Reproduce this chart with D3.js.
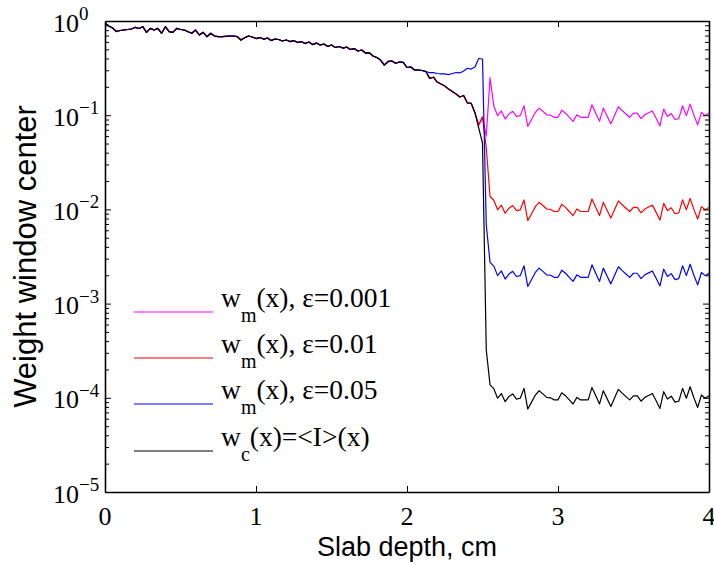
<!DOCTYPE html>
<html>
<head>
<meta charset="utf-8">
<script src="https://cdn.jsdelivr.net/npm/d3@7"></script>
<style>
  body { margin: 0; background: #fff; }
  svg { display: block; }
</style>
</head>
<body>
<svg id="chart" width="714" height="565"></svg>
<script>
// Sample depths along the slab, cm
const depth = [
  0, 0.025, 0.05, 0.075, 0.1, 0.125, 0.15, 0.175, 0.2, 0.225, 0.25, 0.275, 0.3, 0.325, 0.35, 0.375, 0.4, 0.425, 0.45, 0.475,
  0.5, 0.525, 0.55, 0.575, 0.6, 0.625, 0.65, 0.675, 0.7, 0.725, 0.75, 0.775, 0.8, 0.825, 0.85, 0.875, 0.9, 0.925, 0.95, 0.975,
  1.0, 1.025, 1.05, 1.075, 1.1, 1.125, 1.15, 1.175, 1.2, 1.225, 1.25, 1.275, 1.3, 1.325, 1.35, 1.375, 1.4, 1.425, 1.45, 1.475,
  1.5, 1.525, 1.55, 1.575, 1.6, 1.625, 1.65, 1.675, 1.7, 1.725, 1.75, 1.775, 1.8, 1.825, 1.85, 1.875, 1.9, 1.925, 1.95, 1.975,
  2.0, 2.025, 2.05, 2.075, 2.1, 2.125, 2.15, 2.175, 2.2, 2.225, 2.25, 2.275, 2.3, 2.325, 2.35, 2.375, 2.4, 2.425, 2.45, 2.475,
  2.5, 2.525, 2.55, 2.575, 2.6, 2.625, 2.65, 2.675, 2.7, 2.725, 2.75, 2.775, 2.8, 2.825, 2.85, 2.875, 2.9, 2.925, 2.95, 2.975,
  3.0, 3.025, 3.05, 3.075, 3.1, 3.125, 3.15, 3.175, 3.2, 3.225, 3.25, 3.275, 3.3, 3.325, 3.35, 3.375, 3.4, 3.425, 3.45, 3.475,
  3.5, 3.525, 3.55, 3.575, 3.6, 3.625, 3.65, 3.675, 3.7, 3.725, 3.75, 3.775, 3.8, 3.825, 3.85, 3.875, 3.9, 3.925, 3.95, 3.975,
  4.0
];

// w_c(x) = <I>(x)
const wc = [
  0.952, 0.885, 0.843, 0.773, 0.793, 0.802, 0.812, 0.822, 0.857, 0.832,
  0.870, 0.758, 0.836, 0.802, 0.836, 0.740, 0.870, 0.770, 0.758, 0.836,
  0.812, 0.802, 0.770, 0.740, 0.802, 0.710, 0.758, 0.681, 0.740, 0.693,
  0.684, 0.681, 0.688, 0.693, 0.693, 0.684, 0.628, 0.664, 0.693, 0.676,
  0.651, 0.668, 0.643, 0.659, 0.620, 0.643, 0.636, 0.613, 0.628, 0.605,
  0.620, 0.591, 0.605, 0.576, 0.598, 0.562, 0.583, 0.556, 0.569, 0.536,
  0.556, 0.523, 0.536, 0.516, 0.529, 0.498, 0.510, 0.480, 0.492, 0.457,
  0.462, 0.425, 0.410, 0.385, 0.341, 0.372, 0.376, 0.356, 0.367, 0.363,
  0.321, 0.325, 0.302, 0.302, 0.298, 0.291, 0.246, 0.253, 0.225, 0.214,
  0.204, 0.190, 0.179, 0.168, 0.156, 0.162, 0.135, 0.134, 0.106, 0.0731,
  0.0507, 3.22e-4, 1.37e-4, 1.25e-4, 9.9e-5, 1.11e-4, 9.1e-5, 1.03e-4, 1.10e-4, 9.7e-5,
  9.9e-5, 1.26e-4, 7.6e-5, 9.0e-5, 1.07e-4, 1.19e-4, 1.10e-4, 1.01e-4, 1.00e-4, 9.5e-5,
  9.5e-5, 1.13e-4, 1.05e-4, 9.5e-5, 8.6e-5, 1.01e-4, 9.5e-5, 9.5e-5, 9.5e-5, 1.29e-4,
  1.05e-4, 8.6e-5, 1.19e-4, 9.8e-5, 8.1e-5, 1.00e-4, 1.23e-4, 1.12e-4, 1.03e-4, 9.5e-5,
  1.05e-4, 1.05e-4, 9.2e-5, 1.01e-4, 1.06e-4, 1.11e-4, 9.3e-5, 7.7e-5, 1.16e-4, 9.7e-5,
  1.04e-4, 9.0e-5, 9.2e-5, 1.26e-4, 9.9e-5, 1.31e-4, 1.00e-4, 7.9e-5, 1.07e-4, 9.9e-5,
  1.05e-4
];

// w_m(x), eps = 0.001
const wm001 = [
  0.952, 0.885, 0.843, 0.773, 0.793, 0.802, 0.812, 0.822, 0.857, 0.832,
  0.870, 0.758, 0.836, 0.802, 0.836, 0.740, 0.870, 0.770, 0.758, 0.836,
  0.812, 0.802, 0.770, 0.740, 0.802, 0.710, 0.758, 0.681, 0.740, 0.693,
  0.684, 0.681, 0.688, 0.693, 0.693, 0.684, 0.628, 0.664, 0.693, 0.676,
  0.651, 0.668, 0.643, 0.659, 0.620, 0.643, 0.636, 0.613, 0.628, 0.605,
  0.620, 0.591, 0.605, 0.576, 0.598, 0.562, 0.583, 0.556, 0.569, 0.536,
  0.556, 0.523, 0.536, 0.516, 0.529, 0.498, 0.510, 0.480, 0.492, 0.457,
  0.462, 0.425, 0.410, 0.385, 0.341, 0.372, 0.376, 0.356, 0.367, 0.363,
  0.321, 0.325, 0.302, 0.302, 0.298, 0.291, 0.246, 0.253, 0.225, 0.214,
  0.204, 0.190, 0.179, 0.168, 0.156, 0.162, 0.135, 0.134, 0.106, 0.0787,
  0.0957, 0.060, 0.250, 0.125, 0.099, 0.111, 0.091, 0.103, 0.110, 0.097,
  0.099, 0.126, 0.076, 0.090, 0.107, 0.119, 0.110, 0.101, 0.100, 0.095,
  0.095, 0.113, 0.105, 0.095, 0.086, 0.101, 0.095, 0.095, 0.095, 0.129,
  0.105, 0.086, 0.119, 0.098, 0.081, 0.100, 0.123, 0.112, 0.103, 0.095,
  0.105, 0.105, 0.092, 0.101, 0.106, 0.111, 0.093, 0.077, 0.116, 0.097,
  0.104, 0.090, 0.092, 0.126, 0.099, 0.131, 0.100, 0.079, 0.107, 0.099,
  0.105
];

// w_m(x), eps = 0.01
const wm01 = [
  0.952, 0.885, 0.843, 0.773, 0.793, 0.802, 0.812, 0.822, 0.857, 0.832,
  0.870, 0.758, 0.836, 0.802, 0.836, 0.740, 0.870, 0.770, 0.758, 0.836,
  0.812, 0.802, 0.770, 0.740, 0.802, 0.710, 0.758, 0.681, 0.740, 0.693,
  0.684, 0.681, 0.688, 0.693, 0.693, 0.684, 0.628, 0.664, 0.693, 0.676,
  0.651, 0.668, 0.643, 0.659, 0.620, 0.643, 0.636, 0.613, 0.628, 0.605,
  0.620, 0.591, 0.605, 0.576, 0.598, 0.562, 0.583, 0.556, 0.569, 0.536,
  0.556, 0.523, 0.536, 0.516, 0.529, 0.498, 0.510, 0.480, 0.492, 0.457,
  0.462, 0.425, 0.410, 0.385, 0.341, 0.372, 0.376, 0.356, 0.367, 0.363,
  0.321, 0.325, 0.302, 0.302, 0.298, 0.291, 0.246, 0.253, 0.225, 0.214,
  0.204, 0.190, 0.179, 0.168, 0.156, 0.162, 0.135, 0.134, 0.106, 0.0787,
  0.0957, 0.0449, 0.0137, 0.0125, 9.9e-3, 1.11e-2, 9.1e-3, 1.03e-2, 1.10e-2, 9.7e-3,
  9.9e-3, 1.26e-2, 7.6e-3, 9.0e-3, 1.07e-2, 1.19e-2, 1.10e-2, 1.01e-2, 1.00e-2, 9.5e-3,
  9.5e-3, 1.13e-2, 1.05e-2, 9.5e-3, 8.6e-3, 1.01e-2, 9.5e-3, 9.5e-3, 9.5e-3, 1.29e-2,
  1.05e-2, 8.6e-3, 1.19e-2, 9.8e-3, 8.1e-3, 1.00e-2, 1.23e-2, 1.12e-2, 1.03e-2, 9.5e-3,
  1.05e-2, 1.05e-2, 9.2e-3, 1.01e-2, 1.06e-2, 1.11e-2, 9.3e-3, 7.7e-3, 1.16e-2, 9.7e-3,
  1.04e-2, 9.0e-3, 9.2e-3, 1.26e-2, 9.9e-3, 1.31e-2, 1.00e-2, 7.9e-3, 1.07e-2, 9.9e-3,
  1.05e-2
];

// w_m(x), eps = 0.05
const wm05 = [
  0.952, 0.885, 0.843, 0.773, 0.793, 0.802, 0.812, 0.822, 0.857, 0.832,
  0.870, 0.758, 0.836, 0.802, 0.836, 0.740, 0.870, 0.770, 0.758, 0.836,
  0.812, 0.802, 0.770, 0.740, 0.802, 0.710, 0.758, 0.681, 0.740, 0.693,
  0.684, 0.681, 0.688, 0.693, 0.693, 0.684, 0.628, 0.664, 0.693, 0.676,
  0.651, 0.668, 0.643, 0.659, 0.620, 0.643, 0.636, 0.613, 0.628, 0.605,
  0.620, 0.591, 0.605, 0.576, 0.598, 0.562, 0.583, 0.556, 0.569, 0.536,
  0.556, 0.523, 0.536, 0.516, 0.529, 0.498, 0.510, 0.480, 0.492, 0.457,
  0.462, 0.425, 0.410, 0.385, 0.341, 0.372, 0.376, 0.356, 0.367, 0.363,
  0.321, 0.325, 0.302, 0.302, 0.298, 0.291, 0.283, 0.283, 0.277, 0.274,
  0.274, 0.270, 0.277, 0.284, 0.281, 0.295, 0.315, 0.309, 0.325, 0.400,
  0.395, 6.83e-3, 2.74e-3, 2.50e-3, 1.98e-3, 2.22e-3, 1.82e-3, 2.06e-3, 2.20e-3, 1.94e-3,
  1.98e-3, 2.52e-3, 1.52e-3, 1.80e-3, 2.14e-3, 2.38e-3, 2.20e-3, 2.02e-3, 2.00e-3, 1.90e-3,
  1.90e-3, 2.26e-3, 2.10e-3, 1.90e-3, 1.72e-3, 2.02e-3, 1.90e-3, 1.90e-3, 1.90e-3, 2.58e-3,
  2.10e-3, 1.72e-3, 2.38e-3, 1.96e-3, 1.62e-3, 2.00e-3, 2.46e-3, 2.24e-3, 2.06e-3, 1.90e-3,
  2.10e-3, 2.10e-3, 1.84e-3, 2.02e-3, 2.12e-3, 2.22e-3, 1.86e-3, 1.54e-3, 2.32e-3, 1.94e-3,
  2.08e-3, 1.80e-3, 1.84e-3, 2.52e-3, 1.98e-3, 2.62e-3, 2.00e-3, 1.58e-3, 2.14e-3, 1.98e-3,
  2.10e-3
];

const xTickValues = [0, 1, 2, 3, 4];
const yDecades = [1e-5, 1e-4, 1e-3, 1e-2, 1e-1, 1];
const yExponents = ["\u22125", "\u22124", "\u22123", "\u22122", "\u22121", "0"];

// Legend entries in drawing order (black drawn last, on top)
const legendBase = ["w", "w", "w", "w"];
const legendSub = ["m", "m", "m", "c"];
const legendRest = ["(x), \u03b5=0.001", "(x), \u03b5=0.01", "(x), \u03b5=0.05", "(x)=<I>(x)"];
const seriesColors = ["#ff00ff", "#ff0000", "#0000ff", "#000000"];
const seriesValues = [wm001, wm01, wm05, wc];

const serif = "'Liberation Serif', 'Times New Roman', Times, serif";
const sans = "'Liberation Sans', Arial, Helvetica, sans-serif";

const plot = { left: 105, right: 709, top: 21, bottom: 492 };

const x = d3.scaleLinear().domain([0, 4]).range([plot.left, plot.right]);
const y = d3.scaleLog().domain([1e-5, 1]).range([plot.bottom, plot.top]);

const svg = d3.select("#chart");

svg.append("defs").append("clipPath").attr("id", "plot-clip")
  .append("rect")
  .attr("x", plot.left).attr("y", plot.top)
  .attr("width", plot.right - plot.left).attr("height", plot.bottom - plot.top);

// Curves
const line = d3.line()
  .x((d, i) => x(depth[i]))
  .y(d => y(d));

svg.append("g").attr("clip-path", "url(#plot-clip)")
  .selectAll("path")
  .data(seriesValues)
  .join("path")
  .attr("d", d => line(d))
  .attr("fill", "none")
  .attr("stroke", (d, i) => seriesColors[i])
  .attr("stroke-width", 1.2)
  .attr("stroke-linejoin", "round");

// Axes: ticks point inward, labels drawn separately
const minorTicks = y.ticks().filter(v => !yDecades.some(d => Math.abs(d - v) / d < 1e-9));

function styleAxis(g, showDomain) {
  g.selectAll(".tick line").attr("stroke", "#000").attr("stroke-width", 1);
  g.selectAll(".tick text").remove();
  if (showDomain) {
    g.select(".domain").attr("stroke", "#000").attr("stroke-width", 1.6);
  } else {
    g.select(".domain").remove();
  }
}

svg.append("g").attr("transform", `translate(0,${plot.bottom})`)
  .call(d3.axisBottom(x).tickValues(xTickValues).tickSizeInner(-6).tickSizeOuter(0))
  .call(g => styleAxis(g, true));
svg.append("g").attr("transform", `translate(0,${plot.top})`)
  .call(d3.axisTop(x).tickValues(xTickValues).tickSizeInner(-6).tickSizeOuter(0))
  .call(g => styleAxis(g, true));

svg.append("g").attr("transform", `translate(${plot.left},0)`)
  .call(d3.axisLeft(y).tickValues(minorTicks).tickSizeInner(-4).tickSizeOuter(0))
  .call(g => styleAxis(g, false));
svg.append("g").attr("transform", `translate(${plot.left},0)`)
  .call(d3.axisLeft(y).tickValues(yDecades).tickSizeInner(-6).tickSizeOuter(0))
  .call(g => styleAxis(g, true));
svg.append("g").attr("transform", `translate(${plot.right},0)`)
  .call(d3.axisRight(y).tickValues(minorTicks).tickSizeInner(-4).tickSizeOuter(0))
  .call(g => styleAxis(g, false));
svg.append("g").attr("transform", `translate(${plot.right},0)`)
  .call(d3.axisRight(y).tickValues(yDecades).tickSizeInner(-6).tickSizeOuter(0))
  .call(g => styleAxis(g, true));

// X tick labels
svg.append("g")
  .selectAll("text")
  .data(xTickValues)
  .join("text")
  .attr("x", d => x(d))
  .attr("y", plot.bottom + 33)
  .attr("text-anchor", "middle")
  .attr("font-family", serif)
  .attr("font-size", 26)
  .attr("fill", "#000")
  .text(d => d);

// Y tick labels as powers of ten
const yLabels = svg.append("g")
  .selectAll("text")
  .data(yDecades)
  .join("text")
  .attr("x", 53)
  .attr("y", d => y(d) + 10.5)
  .attr("font-family", serif)
  .attr("font-size", 26)
  .attr("fill", "#000");
yLabels.append("tspan").text("10");
yLabels.append("tspan")
  .attr("dy", -11.5)
  .attr("font-size", 19)
  .text((d, i) => yExponents[i]);

// Axis titles
svg.append("text")
  .attr("x", (plot.left + plot.right) / 2)
  .attr("y", 556)
  .attr("text-anchor", "middle")
  .attr("font-family", sans)
  .attr("font-size", 27)
  .attr("fill", "#000")
  .text("Slab depth, cm");

svg.append("text")
  .attr("transform", `translate(36,${(plot.top + plot.bottom) / 2}) rotate(-90)`)
  .attr("text-anchor", "middle")
  .attr("font-family", sans)
  .attr("font-size", 31)
  .attr("fill", "#000")
  .text("Weight window center");

// Legend
const legendRowY = [312, 358, 404, 451];
const legend = svg.append("g")
  .selectAll("g")
  .data(seriesColors)
  .join("g");

legend.append("line")
  .attr("x1", 134).attr("x2", 213)
  .attr("y1", (d, i) => legendRowY[i]).attr("y2", (d, i) => legendRowY[i])
  .attr("stroke", d => d)
  .attr("stroke-width", 1.2);

const legendText = legend.append("text")
  .attr("x", 221)
  .attr("y", (d, i) => legendRowY[i] - 5)
  .attr("font-family", serif)
  .attr("font-size", 27.5)
  .attr("fill", "#000");
legendText.append("tspan").text((d, i) => legendBase[i]);
legendText.append("tspan").attr("dy", 15).attr("font-size", 20).text((d, i) => legendSub[i]);
legendText.append("tspan").attr("dy", -15).text((d, i) => legendRest[i]);
</script>
</body>
</html>
